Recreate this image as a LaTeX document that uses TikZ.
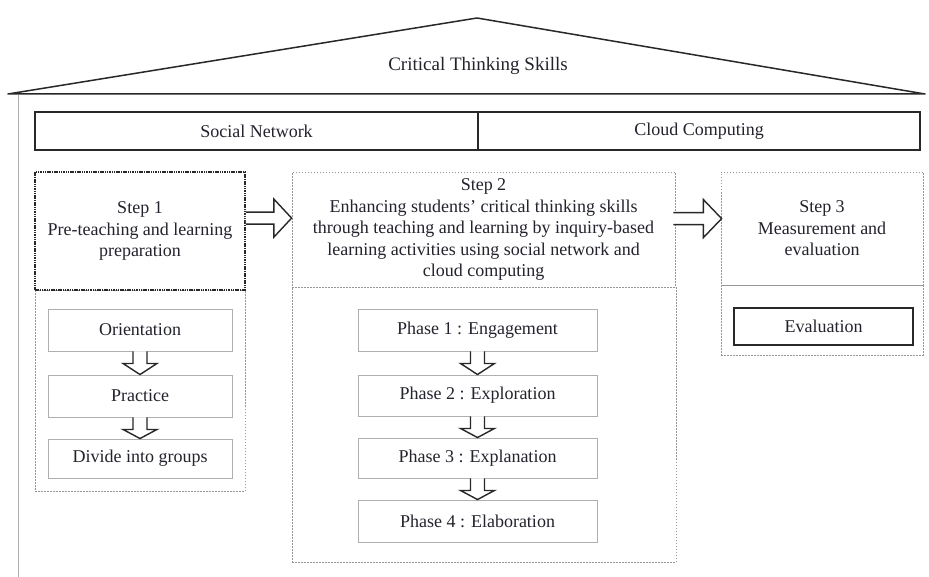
\documentclass[tikz,border=0pt]{standalone}
\usepackage{fontspec}
\setmainfont{Liberation Serif}
\usetikzlibrary{calc}
\definecolor{txt}{RGB}{35,35,45}
\definecolor{dk}{RGB}{40,40,40}
\definecolor{lg}{RGB}{175,175,175}
\definecolor{dg}{RGB}{150,150,150}
\tikzset{
  basefont/.style={font=\fontsize{18}{21.5}\selectfont, text=txt, align=center, inner sep=0pt},
  lbl/.style={basefont, font=\fontsize{19}{22}\selectfont},
  solidbox/.style={basefont, draw=dk, line width=1.3pt},
  phasebox/.style={basefont, draw=lg, line width=0.9pt},
  dotbox/.style={basefont, draw=dg, line width=0.8pt, dash pattern=on 1.5pt off 1.5pt},
  darkdot/.style={basefont, draw=dk, line width=1.8pt, dash pattern=on 1.5pt off 0.8pt},
  blockarrow/.style={draw=dk, line width=1.4pt, fill=white, line join=miter}
}
\newcommand\downarr[2]{%
  \draw[blockarrow] ($(#1.south)+(-7,0)$) -- ($(#1.south)+(-7,12)$) -- ($(#1.south)+(-17,12)$) -- (#2.north)
    -- ($(#1.south)+(17,12)$) -- ($(#1.south)+(7,12)$) -- ($(#1.south)+(7,0)$);}
\begin{document}
\begin{tikzpicture}[x=1pt,y=-1pt]
\useasboundingbox[fill=white] (0,0) rectangle (929,577);
% roof
\coordinate (rl) at (8,94);
\coordinate (rt) at (477,18);
\coordinate (rr) at (925,94);
\draw[dk, line width=1.5pt, line join=round] (rl) -- (rt) -- (rr) -- cycle;
\node[lbl] (cts) at (478,66) {Critical Thinking Skills};
\coordinate (vl1) at (18,95);
\coordinate (vl2) at (18,577);
\draw[lg, line width=1pt] (vl1) -- (vl2);
% social network / cloud computing
\node[solidbox, minimum width=443pt, minimum height=38pt] (sn) at (256.5,131) {Social Network};
\node[solidbox, minimum width=442pt, minimum height=38pt] (cc) at (699,131) {Cloud Computing};
% step 1
\node[dotbox, minimum width=210pt, minimum height=201pt] (s1l) at (140,390.5) {};
\node[darkdot, minimum width=210pt, minimum height=118pt] (s1) at (140,231) {Step 1\\Pre-teaching and learning\\preparation};
\node[phasebox, minimum width=184pt, minimum height=42pt] (ori) at (140,330) {Orientation};
\node[phasebox, minimum width=184pt, minimum height=42pt] (pra) at (140,396) {Practice};
\node[phasebox, minimum width=184pt, minimum height=39pt] (div) at (140,458.5) {Divide into groups};
\downarr{ori}{pra}
\downarr{pra}{div}
% step 2
\node[dotbox, minimum width=384pt, minimum height=275pt] (s2l) at (484,424.5) {};
\node[dotbox, minimum width=383pt, minimum height=115pt] (s2) at (483.5,229.5) {Step 2\\Enhancing students' critical thinking skills\\through teaching and learning by inquiry-based\\learning activities using social network and\\cloud computing};
\node[phasebox, minimum width=239pt, minimum height=42pt] (p1) at (477.5,330) {Phase 1 : Engagement};
\node[phasebox, minimum width=239pt, minimum height=41pt] (p2) at (477.5,395.5) {Phase 2 : Exploration};
\node[phasebox, minimum width=239pt, minimum height=40pt] (p3) at (477.5,458) {Phase 3 : Explanation};
\node[phasebox, minimum width=239pt, minimum height=42pt] (p4) at (477.5,521) {Phase 4 : Elaboration};
\downarr{p1}{p2}
\downarr{p2}{p3}
\downarr{p3}{p4}
% step 3
\node[dotbox, minimum width=202pt, minimum height=70pt] (s3l) at (822,320) {};
\node[dotbox, minimum width=202pt, minimum height=113pt] (s3) at (822,228.5) {Step 3\\Measurement and\\evaluation};
\node[solidbox, minimum width=179pt, minimum height=37pt] (ev) at (823.5,326.5) {Evaluation};
% right arrows
\coordinate (a1s) at ($(s1.north east)+(0,47)$);
\coordinate (a1t) at (s2.west |- a1s);
\draw[blockarrow] ($(a1s)+(0,-6)$) -- ($(a1s)+(28,-6)$) -- ($(a1s)+(28,-19)$) -- (a1t)
  -- ($(a1s)+(28,19)$) -- ($(a1s)+(28,6)$) -- ($(a1s)+(0,6)$);
\coordinate (a2s) at ($(s2.north east)+(-2,47)$);
\coordinate (a2t) at ($(s3.west |- a2s)+(1,0)$);
\draw[blockarrow] ($(a2s)+(0,-6)$) -- ($(a2s)+(30,-6)$) -- ($(a2s)+(30,-19)$) -- (a2t)
  -- ($(a2s)+(30,19)$) -- ($(a2s)+(30,6)$) -- ($(a2s)+(0,6)$);
\end{tikzpicture}
\end{document}
